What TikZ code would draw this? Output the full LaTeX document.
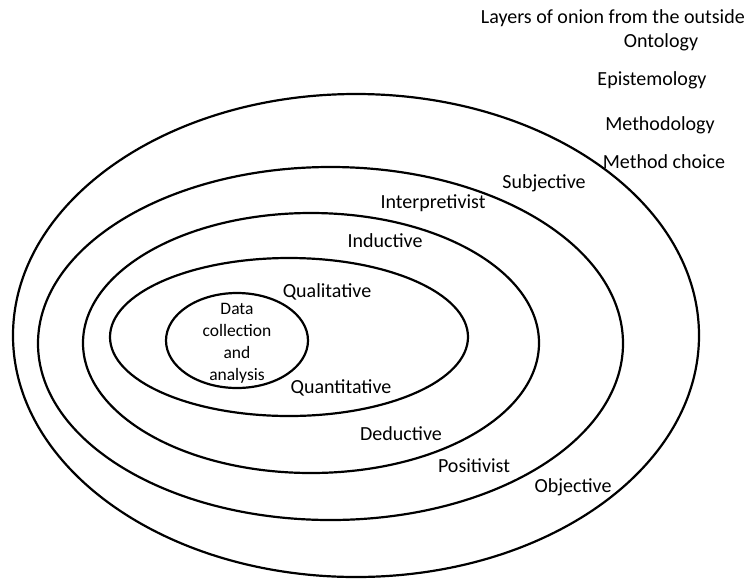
\documentclass[tikz,border=0pt]{standalone}
\usepackage{fontspec}
\setmainfont{Carlito}
\usetikzlibrary{shapes,positioning}

\begin{document}
\begin{tikzpicture}[
    x=1pt,y=-1pt,
    layer/.style={ellipse,draw,line width=2.2pt,inner sep=0pt},
    lbl/.style={font=\fontsize{20}{22}\selectfont,inner sep=0pt,text height=13pt,text depth=4pt},
    coretxt/.style={font=\fontsize{17.5}{22}\selectfont,align=center,inner sep=0pt}
]
    \useasboundingbox (0,0) rectangle (747,579);

    % Onion layers, from the outside
    \node[layer,minimum width=686pt,minimum height=483pt] (ontol) at (356,335.5) {};
    \node[layer,minimum width=585pt,minimum height=353pt] (epist) at (330.5,343.5) {};
    \node[layer,minimum width=456pt,minimum height=260pt] (method) at (311,343) {};
    \node[layer,minimum width=358pt,minimum height=158pt] (choice) at (289,337) {};
    \node[layer,minimum width=142pt,minimum height=95pt] (core) at (237,340.5) {};
    \node[coretxt] (data) at (core.center) [yshift=-2.5pt] {Data\\collection\\and\\analysis};

    % Legend, top right
    \node[lbl,anchor=east] (title) at (745,19) {Layers of onion from the outside};
    \node[lbl] (ontology) at (661,43) {Ontology};
    \node[lbl] (episte) at (652,81) {Epistemology};
    \node[lbl] (methodology) at (660,126) {Methodology};
    \node[lbl] (mchoice) at (664,164) {Method choice};

    % Upper labels
    \node[lbl] (subj) at (544,184) {Subjective};
    \node[lbl] (interp) at (433,204) {Interpretivist};
    \node[lbl] (induct) at (385,243) {Inductive};
    \node[lbl] (qual) at (327,293) {Qualitative};

    % Lower labels
    \node[lbl] (quant) at (341,389) {Quantitative};
    \node[lbl] (deduct) at (401,436) {Deductive};
    \node[lbl] (posit) at (474,468) {Positivist};
    \node[lbl] (obj) at (573,488) {Objective};
\end{tikzpicture}
\end{document}
